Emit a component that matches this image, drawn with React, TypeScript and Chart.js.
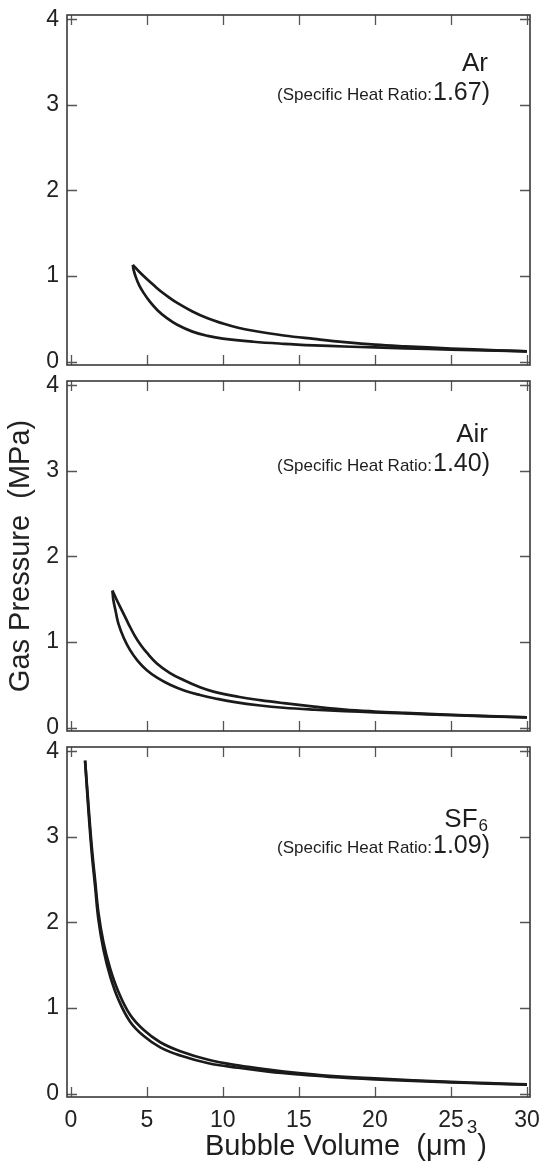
import React, { useEffect, useRef } from 'react';
import { Chart, registerables } from 'chart.js';

Chart.register(...registerables);

const FONT = '"Liberation Sans", Arial, Helvetica, sans-serif';

// ---- tick labels ----
const xTickValues = [0, 5, 10, 15, 20, 25, 30];
const yTickValues = [0, 1, 2, 3, 4];

// ---- panel texts ----
const gasNames = ['Ar', 'Air', 'SF'];
const gasSubscripts = ['', '', '6'];
const heatRatios = ['1.67', '1.40', '1.09'];

// ---- Ar (upper / lower branches of the loop) ----
const arUpperVolume = [4.08, 4.5, 5, 5.5, 6, 6.5, 7, 8, 9, 10, 11, 12, 14, 16, 18, 20, 22, 25, 28, 30];
const arUpperPressure = [1.13, 1.05, 0.965, 0.885, 0.81, 0.745, 0.685, 0.585, 0.505, 0.445, 0.395, 0.36, 0.305, 0.265, 0.228, 0.198, 0.178, 0.153, 0.132, 0.12];
const arLowerVolume = [4.08, 4.12, 4.25, 4.5, 4.8, 5.2, 5.7, 6.3, 7, 8, 9, 10, 12, 14, 16, 18, 20, 22, 25, 28, 30];
const arLowerPressure = [1.13, 1.08, 1.0, 0.89, 0.8, 0.7, 0.6, 0.51, 0.43, 0.35, 0.3, 0.268, 0.232, 0.208, 0.19, 0.176, 0.165, 0.155, 0.14, 0.128, 0.12];

// ---- Air ----
const airUpperVolume = [2.74, 3, 3.4, 3.8, 4.2, 4.6, 5, 5.66, 6.5, 7.41, 8.5, 9.38, 11, 12.45, 14, 16, 18, 20, 22, 25, 28, 30];
const airUpperPressure = [1.6, 1.5, 1.355, 1.21, 1.075, 0.965, 0.875, 0.75, 0.64, 0.555, 0.47, 0.42, 0.36, 0.32, 0.285, 0.245, 0.21, 0.188, 0.172, 0.15, 0.132, 0.12];
const airLowerVolume = [2.74, 2.8, 2.95, 3.13, 3.5, 3.9, 4.4, 5, 5.7, 6.53, 7.5, 8.5, 9.5, 10.7, 12.45, 14, 16, 18, 20, 22, 25, 28, 30];
const airLowerPressure = [1.6, 1.49, 1.36, 1.215, 1.04, 0.905, 0.78, 0.67, 0.58, 0.5, 0.43, 0.38, 0.34, 0.3, 0.258, 0.232, 0.21, 0.193, 0.178, 0.165, 0.145, 0.128, 0.12];

// ---- SF6 ----
const sf6UpperVolume = [0.94, 1.16, 1.38, 1.6, 1.82, 2.15, 2.59, 3.13, 3.9, 4.78, 5.88, 7.2, 9.05, 11, 13, 15, 17, 20, 22.5, 25, 27.5, 30];
const sf6UpperPressure = [3.89, 3.37, 2.88, 2.49, 2.11, 1.765, 1.46, 1.19, 0.92, 0.745, 0.6, 0.495, 0.395, 0.329, 0.279, 0.238, 0.207, 0.177, 0.156, 0.136, 0.121, 0.108];
const sf6LowerVolume = [0.94, 1.16, 1.38, 1.6, 1.82, 2.15, 2.59, 3.13, 3.9, 4.78, 5.88, 7.2, 9.05, 11, 13, 15, 17, 20, 22.5, 25, 27.5, 30];
const sf6LowerPressure = [3.89, 3.31, 2.81, 2.42, 2.03, 1.68, 1.37, 1.1, 0.84, 0.675, 0.54, 0.445, 0.355, 0.302, 0.257, 0.223, 0.196, 0.167, 0.149, 0.131, 0.117, 0.105];

const zip = (xs: number[], ys: number[]) => xs.map((x, i) => ({ x, y: ys[i] }));

const seriesByPanel = [
  [zip(arUpperVolume, arUpperPressure), zip(arLowerVolume, arLowerPressure)],
  [zip(airUpperVolume, airUpperPressure), zip(airLowerVolume, airLowerPressure)],
  [zip(sf6UpperVolume, sf6UpperPressure), zip(sf6LowerVolume, sf6LowerPressure)],
];

// layout (pixels)
const PANEL_LAYOUT = [
  { top: 0, height: 373, padTop: 15, xHeight: 8, nameY: 71, ratioY: 100 },
  { top: 373, height: 366, padTop: 8, xHeight: 8, nameY: 69, ratioY: 98 },
  { top: 739, height: 425, padTop: 8, xHeight: 67, nameY: 88, ratioY: 114 },
];

const framePlugin = {
  id: 'frameTicks',
  afterDatasetsDraw(chart: any, _args: any, opts: any) {
    const { ctx, chartArea, scales } = chart;
    const { left, right, top, bottom } = chartArea;
    const xs = scales.x;
    const ys = scales.y;
    ctx.save();
    ctx.strokeStyle = '#555';
    ctx.lineWidth = 1.3;
    ctx.beginPath();
    xs.ticks.forEach((t: any) => {
      const px = Math.round(xs.getPixelForValue(t.value)) + 0.5;
      ctx.moveTo(px, bottom);
      ctx.lineTo(px, bottom - 10);
      ctx.moveTo(px, top);
      ctx.lineTo(px, top + 10);
    });
    ys.ticks.forEach((t: any) => {
      const py = Math.round(ys.getPixelForValue(t.value)) + 0.5;
      ctx.moveTo(left, py);
      ctx.lineTo(left + 10, py);
      ctx.moveTo(right, py);
      ctx.lineTo(right - 10, py);
    });
    ctx.stroke();
    ctx.strokeStyle = '#3a3a3a';
    ctx.lineWidth = 1.6;
    ctx.strokeRect(left, top, right - left, bottom - top);

    // gas name
    const rx = 488;
    ctx.fillStyle = '#1e1e1e';
    ctx.textBaseline = 'alphabetic';
    ctx.textAlign = 'left';
    ctx.font = `26px ${FONT}`;
    const nameW = ctx.measureText(opts.name).width;
    let subW = 0;
    if (opts.sub) {
      ctx.font = `17px ${FONT}`;
      subW = ctx.measureText(opts.sub).width + 1;
    }
    ctx.font = `26px ${FONT}`;
    ctx.fillText(opts.name, rx - nameW - subW, opts.nameY);
    if (opts.sub) {
      ctx.font = `17px ${FONT}`;
      ctx.fillText(opts.sub, rx - subW + 1, opts.nameY + 4);
    }
    // ratio line
    const rrx = 490;
    ctx.font = `25px ${FONT}`;
    const numText = opts.ratio + ')';
    const numW = ctx.measureText(numText).width;
    ctx.font = `17px ${FONT}`;
    const preText = '(Specific Heat Ratio:';
    const preW = ctx.measureText(preText).width;
    ctx.fillText(preText, rrx - numW - preW - 1, opts.ratioY);
    ctx.font = `25px ${FONT}`;
    ctx.fillText(numText, rrx - numW, opts.ratioY);

    // x axis title (bottom panel only)
    if (opts.xTitle) {
      const base = bottom + 58;
      const main = 'Bubble Volume  (\u03bcm';
      ctx.font = `29px ${FONT}`;
      const mainW = ctx.measureText(main).width;
      ctx.font = `19px ${FONT}`;
      const supW = ctx.measureText('3').width;
      ctx.font = `29px ${FONT}`;
      const closeW = ctx.measureText(')').width;
      const total = mainW + supW + closeW;
      const x0 = 346 - total / 2;
      ctx.fillText(main, x0, base);
      ctx.font = `19px ${FONT}`;
      ctx.fillText('3', x0 + mainW, base - 22);
      ctx.font = `29px ${FONT}`;
      ctx.fillText(')', x0 + mainW + supW, base);
    }
    ctx.restore();
  },
};

function Panel({ index }: { index: number }) {
  const ref = useRef<HTMLCanvasElement | null>(null);
  useEffect(() => {
    const L = PANEL_LAYOUT[index];
    const isBottom = index === 2;
    const isMiddle = index === 1;
    const [upper, lower] = seriesByPanel[index];
    const lineStyle = {
      showLine: true,
      pointRadius: 0,
      borderColor: '#1a1a1a',
      borderWidth: 2.7,
      fill: false,
      tension: 0.4,
    };
    const chart = new Chart(ref.current as HTMLCanvasElement, {
      type: 'scatter',
      data: {
        datasets: [
          { label: gasNames[index] + ' upper', data: upper, ...lineStyle },
          { label: gasNames[index] + ' lower', data: lower, ...lineStyle },
        ],
      },
      options: {
        animation: false,
        responsive: false,
        devicePixelRatio: 1,
        events: [],
        layout: { padding: { top: L.padTop, left: 0, right: 12, bottom: 0 } },
        plugins: {
          legend: { display: false },
          tooltip: { enabled: false },
          frameTicks: {
            name: gasNames[index],
            sub: gasSubscripts[index],
            ratio: heatRatios[index],
            nameY: L.nameY,
            ratioY: L.ratioY,
            xTitle: isBottom,
          },
        } as any,
        scales: {
          x: {
            type: 'linear',
            min: -0.25,
            max: 30.2,
            grid: { display: false, drawTicks: false },
            border: { display: false },
            ticks: {
              display: isBottom,
              padding: 10,
              color: '#222',
              font: { family: FONT, size: 23 },
              maxRotation: 0,
            },
            afterBuildTicks: (s: any) => {
              s.ticks = xTickValues.map((v) => ({ value: v }));
            },
            afterFit: (s: any) => {
              s.height = L.xHeight;
              s.paddingLeft = 0;
              s.paddingRight = 0;
            },
          },
          y: {
            type: 'linear',
            min: -0.04,
            max: 4.05,
            grid: { display: false, drawTicks: false },
            border: { display: false },
            title: {
              display: isMiddle,
              text: 'Gas Pressure  (MPa)',
              color: '#222',
              font: { family: FONT, size: 29 },
              padding: { top: 4, bottom: 0 },
            },
            ticks: {
              padding: 8,
              color: '#222',
              font: { family: FONT, size: 23 },
              callback: (v: any) => String(v),
            },
            afterBuildTicks: (s: any) => {
              s.ticks = yTickValues.map((v) => ({ value: v }));
            },
            afterFit: (s: any) => {
              s.width = 67;
              s.paddingTop = 0;
              s.paddingBottom = 0;
            },
          },
        },
      },
      plugins: [framePlugin],
    });
    return () => chart.destroy();
  }, [index]);
  const L = PANEL_LAYOUT[index];
  return (
    <canvas
      ref={ref}
      width={542}
      height={L.height}
      style={{ position: 'absolute', left: 0, top: L.top, width: 542, height: L.height }}
    />
  );
}

export default function App() {
  return (
    <div style={{ position: 'absolute', left: 0, top: 0, width: 542, height: 1164, background: '#fff', overflow: 'hidden' }}>
      <Panel index={0} />
      <Panel index={1} />
      <Panel index={2} />
    </div>
  );
}
